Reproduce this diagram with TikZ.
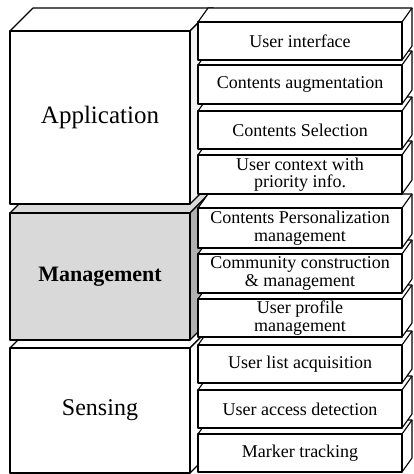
\documentclass[tikz,border=0pt]{standalone}
\usepackage{fontspec}
\setmainfont{Liberation Serif}
\tikzset{
  edge/.style={line width=1.1pt, line join=round},
  rface/.style={draw, edge, fill=white, minimum width=204pt, inner sep=0pt,
    outer sep=0pt, align=center, font=\fontsize{18}{17.5}\selectfont},
  lface/.style={draw, edge, minimum width=180pt, inner sep=0pt,
    outer sep=0pt, align=center}
}
% right-hand slab: name, top y, bottom y, text
\newcommand\rslab[4]{%
  \pgfmathsetmacro\bxTop{#2}\pgfmathsetmacro\bxBot{#3}%
  \pgfmathsetmacro\bxMid{(#2+#3)/2}\pgfmathsetmacro\bxH{#3-#2}%
  \filldraw[edge, fill=white] (198,\bxTop) -- (208,\bxTop-14) -- (412,\bxTop-14)
    -- (412,\bxBot-14) -- (402,\bxBot) -- (402,\bxTop) -- cycle;
  \draw[edge] (402,\bxTop) -- (412,\bxTop-14);
  \node[rface, minimum height=\bxH pt] (#1) at (300,\bxMid) {#4};
}
% left-hand layer block: name, top y, bottom y, front fill, side fill, font, text
\newcommand\lblock[7]{%
  \pgfmathsetmacro\bxTop{#2}\pgfmathsetmacro\bxBot{#3}%
  \pgfmathsetmacro\bxMid{(#2+#3)/2}\pgfmathsetmacro\bxH{#3-#2}%
  \filldraw[edge, fill=#4] (10,\bxTop) -- (33,\bxTop-23) -- (213,\bxTop-23)
    -- (190,\bxTop) -- cycle;
  \filldraw[edge, fill=#5] (190,\bxTop) -- (213,\bxTop-23) -- (213,\bxBot-23)
    -- (190,\bxBot) -- cycle;
  \node[lface, fill=#4, minimum height=\bxH pt, font=#6] (#1) at (100,\bxMid) {#7};
}
\begin{document}
\begin{tikzpicture}[x=1pt,y=-1pt]
\useasboundingbox (0,0) rectangle (414,474);

% layer blocks, drawn from the bottom up
\lblock{sensing}{348}{473}{white}{white}{\fontsize{24}{28}\selectfont}{Sensing}
\lblock{management}{213}{340}{gray!30}{gray!62}{\bfseries\fontsize{22}{26}\selectfont}{Management}
\lblock{application}{31}{204}{white}{gray!10}{\fontsize{25}{30}\selectfont}{Application}

% function slabs, drawn from the bottom up
\rslab{marker}{434}{472}{Marker tracking}
\rslab{access}{390}{428}{User access detection}
\rslab{userlist}{345}{383}{User list acquisition}
\rslab{profile}{299}{337}{User profile\\management}
\rslab{community}{254}{293}{Community construction\\\& management}
\rslab{personal}{208}{248}{Contents Personalization\\management}
\rslab{context}{155}{194}{User context with\\priority info.}
\rslab{selection}{111}{149}{Contents Selection}
\rslab{augment}{65}{104}{Contents augmentation}
\rslab{ui}{22}{60}{User interface}
\end{tikzpicture}
\end{document}
